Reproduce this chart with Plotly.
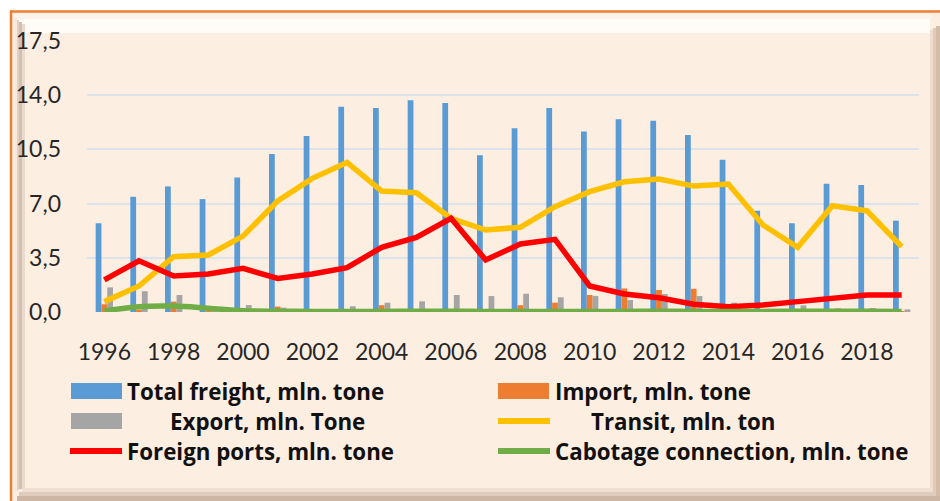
import plotly.graph_objects as go

# ---- data (mln. tonnes per year) ----
years = list(range(1996, 2020))
total_freight = [5.73, 7.44, 8.11, 7.29, 8.69, 10.2, 11.36, 13.25, 13.17, 13.67, 13.49, 10.12,
                 11.86, 13.17, 11.66, 12.44, 12.35, 11.43, 9.83, 6.54, 5.73, 8.28, 8.2, 5.9]
imports = [0.5, 0.15, 0.67, 0.03, 0.26, 0.35, 0.02, 0.04, 0.44, 0.02, 0.03, 0.19,
           0.44, 0.6, 1.1, 1.52, 1.42, 1.5, 0.03, 0.04, 0.15, 0.04, 0.17, 0.02]
exports = [1.59, 1.34, 1.1, 0.05, 0.45, 0.28, 0.17, 0.37, 0.6, 0.69, 1.1, 1.03,
           1.18, 0.95, 1.03, 0.77, 1.16, 1.03, 0.6, 0.2, 0.43, 0.24, 0.26, 0.17]
transit = [0.67, 1.68, 3.57, 3.68, 4.9, 7.17, 8.63, 9.66, 7.81, 7.7, 6.05, 5.29,
           5.47, 6.8, 7.77, 8.41, 8.59, 8.13, 8.26, 5.62, 4.18, 6.86, 6.54, 4.22]
foreign_ports = [2.07, 3.31, 2.32, 2.45, 2.82, 2.17, 2.45, 2.86, 4.18, 4.82, 6.05, 3.36,
                 4.39, 4.69, 1.68, 1.16, 0.92, 0.5, 0.34, 0.45, 0.67, 0.88, 1.1, 1.1]
cabotage = [0.07, 0.34, 0.38, 0.24, 0.08, 0.05, 0.04, 0.04, 0.04, 0.05, 0.05, 0.04,
            0.04, 0.04, 0.04, 0.04, 0.05, 0.04, 0.04, 0.04, 0.05, 0.05, 0.05, 0.04]

x_ticks = list(range(1996, 2019, 2))
y_ticks = [0, 3.5, 7, 10.5, 14, 17.5]
y_tick_text = ["0,0", "3,5", "7,0", "10,5", "14,0", "17,5"]

names = ["Total freight, mln. tone", "Import, mln. tone", "Export, mln. Tone",
         "Transit, mln. ton", "Foreign ports, mln. tone", "Cabotage connection, mln. tone"]

BLUE, ORANGE, GRAY = "#5B9BD5", "#ED7D31", "#A5A5A5"
YELLOW, RED, GREEN = "#FFC000", "#FF0000", "#70AD47"
PEACH = "#FDEEE2"
FONT = "Lato"
LEGEND_FONT = "Open Sans"

W, H = 940, 501
L, R, T, B = 87, 21, 41, 189
PW, PH = W - L - R, H - T - B


def px(x):
    return (x - L) / PW


def py(y):
    return (H - B - y) / PH


fig = go.Figure()
for vals, name, col in [(total_freight, names[0], BLUE),
                        (imports, names[1], ORANGE),
                        (exports, names[2], GRAY)]:
    fig.add_trace(go.Bar(x=years, y=vals, name=name, marker_color=col,
                         marker_line_width=0, showlegend=False))

for vals, name, col, shape in [(transit, names[3], YELLOW, "linear"),
                               (foreign_ports, names[4], RED, "linear"),
                               (cabotage, names[5], GREEN, "spline")]:
    fig.add_trace(go.Scatter(x=years, y=vals, name=name, mode="lines",
                             line=dict(color=col, width=5.5, shape=shape),
                             showlegend=False))

shapes = []


def rect(x0, y0, x1, y1, color, layer="below"):
    shapes.append(dict(type="rect", xref="paper", yref="paper",
                       x0=px(x0), x1=px(x1), y0=py(y1), y1=py(y0),
                       fillcolor=color, line_width=0, layer=layer))


def hline(x0, x1, y, color, width):
    shapes.append(dict(type="line", xref="paper", yref="paper",
                       x0=px(x0), x1=px(x1), y0=py(y), y1=py(y),
                       line=dict(color=color, width=width), layer="below"))


def vline(x, y0, y1, color, width):
    shapes.append(dict(type="line", xref="paper", yref="paper",
                       x0=px(x), x1=px(x), y0=py(y0), y1=py(y1),
                       line=dict(color=color, width=width), layer="below"))


# bevelled chart panel
rect(12, 13, W, H, PEACH)
rect(14, 14, 932, 19, "#FDF3EA")
rect(18, 19, 930, 33, "#FFFCF8")
# left bevel
rect(14, 18, 17, 492, "#F7E9DE")
rect(17, 20, 19, 490, "#E2D1C3")
rect(19, 22, 22, 489, "#D3C0B1")
rect(22, 24, 25, 488, "#E9DACD")
# right bevel
rect(930, 30, 933, H, "#EEDCCD")
rect(933, 28, 936, H, "#E0CAB8")
rect(936, 26, W, H, "#D4BCA8")
# bottom bevel
rect(22, 488, 932, 492, "#EFDFD2")
rect(19, 492, 935, 496, "#E0CCBC")
rect(17, 496, W, H, "#CDB6A4")
# orange frame
hline(10, W, 11.5, "#ED7D31", 2.5)
vline(11, 10.5, H, "#ED7D31", 2.5)

annotations = []


def legend_item(kind, color, x0, x1, y, text, tx):
    if kind == "bar":
        rect(x0, y - 8, x1, y + 8, color, layer="above")
    else:
        shapes.append(dict(type="line", xref="paper", yref="paper",
                           x0=px(x0), x1=px(x1), y0=py(y), y1=py(y),
                           line=dict(color=color, width=6), layer="above"))
    annotations.append(dict(xref="paper", yref="paper", x=px(tx), y=py(y),
                            xanchor="left", yanchor="middle", showarrow=False,
                            text="<b>" + text + "</b>",
                            font=dict(family=LEGEND_FONT, size=22.3, color="#111111")))


legend_item("bar", BLUE, 71, 122, 391, names[0], 125)
legend_item("bar", ORANGE, 498, 549, 391, names[1], 553)
legend_item("bar", GRAY, 71, 122, 421, names[2], 168)
legend_item("line", YELLOW, 498, 550, 421, names[3], 589)
legend_item("line", RED, 70, 122, 451, names[4], 125)
legend_item("line", GREEN, 498, 550, 451, names[5], 553)

fig.update_layout(
    width=W, height=H,
    margin=dict(l=L, r=R, t=T, b=B, pad=0),
    paper_bgcolor="white",
    plot_bgcolor="rgba(0,0,0,0)",
    barmode="group", bargap=0.5, bargroupgap=0,
    shapes=shapes, annotations=annotations,
    showlegend=False,
    font=dict(family=FONT, size=23, color="#262626"),
)
fig.update_xaxes(range=[1995.5, 2019.5], tickvals=x_ticks, showgrid=False,
                 zeroline=False, showline=False, ticks="",
                 ticklabelstandoff=24,
                 tickfont=dict(family=FONT, size=23, color="#262626"))
fig.update_yaxes(range=[0, 17.5], tickvals=y_ticks, ticktext=y_tick_text,
                 showgrid=True, gridcolor="#DCE3EB", gridwidth=1.5,
                 zeroline=False, showline=False, ticks="",
                 ticklabelstandoff=25,
                 tickfont=dict(family=FONT, size=23, color="#262626"))

fig.write_html("out.html")
